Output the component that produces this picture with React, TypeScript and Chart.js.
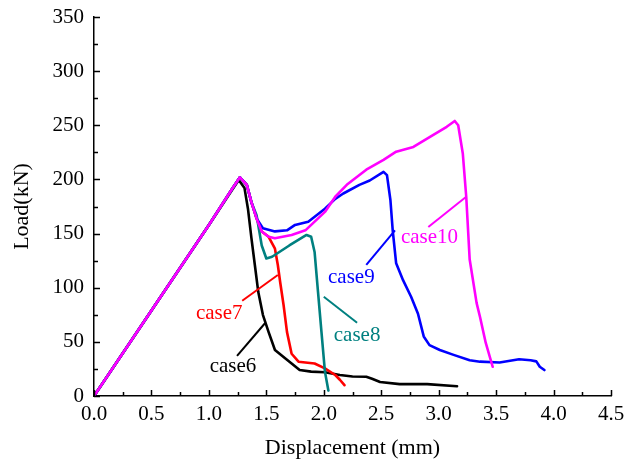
import React, { useEffect, useRef } from 'react';
import { Chart, registerables } from 'chart.js';

Chart.register(...registerables);

// ---- data (displacement mm, load kN) ----
const case6X = [0, 0.5, 1.0, 1.2, 1.26, 1.31, 1.34, 1.37, 1.4, 1.43, 1.47, 1.52, 1.575, 1.65, 1.72, 1.79, 1.89, 2.01, 2.14, 2.25, 2.37, 2.42, 2.49, 2.66, 2.9, 3.16];
const case6Y = [0, 79, 158, 190, 199.5, 192, 173, 146, 121, 96, 75, 59, 42.5, 36, 30, 24, 22.5, 22, 19.4, 18, 17.8, 16, 13, 11, 11, 9];

const case7X = [0, 0.5, 1.0, 1.2, 1.27, 1.33, 1.37, 1.415, 1.46, 1.52, 1.575, 1.6, 1.62, 1.65, 1.68, 1.72, 1.78, 1.92, 2.01, 2.1, 2.14, 2.18];
const case7Y = [0, 79, 158, 191, 202, 195, 179, 164, 152, 147, 136, 121, 105.5, 84, 59, 39, 31.7, 30, 25.5, 19.4, 15, 10];

const case8X = [0, 0.5, 1.0, 1.2, 1.27, 1.33, 1.37, 1.415, 1.46, 1.5, 1.55, 1.7, 1.85, 1.89, 1.92, 1.95, 1.98, 2.01, 2.04];
const case8Y = [0, 79, 158, 191, 202, 195, 179, 167, 139, 127, 128.6, 139, 148.7, 147, 133, 96, 59, 22.5, 5];

const case9X = [0, 0.5, 1.0, 1.2, 1.27, 1.33, 1.37, 1.415, 1.47, 1.575, 1.68, 1.75, 1.865, 2.01, 2.1, 2.17, 2.31, 2.4, 2.52, 2.55, 2.58, 2.6, 2.63, 2.69, 2.76, 2.82, 2.87, 2.92, 3.01, 3.13, 3.27, 3.36, 3.53, 3.7, 3.8, 3.85, 3.88, 3.92];
const case9Y = [0, 79, 158, 191, 202, 195, 179, 164, 155, 152, 153, 158, 161, 173, 182, 187, 195, 199, 207, 204, 181, 153, 122.5, 107, 91.7, 76, 55, 47, 42.5, 38, 33, 31.7, 31, 34, 33, 32, 27, 24];

const case10X = [0, 0.5, 1.0, 1.2, 1.27, 1.33, 1.37, 1.415, 1.46, 1.52, 1.575, 1.72, 1.84, 2.01, 2.1, 2.2, 2.37, 2.52, 2.63, 2.78, 2.95, 3.07, 3.14, 3.17, 3.21, 3.24, 3.27, 3.33, 3.36, 3.41, 3.47];
const case10Y = [0, 79, 158, 191, 202, 195, 179, 164, 152, 147, 145.6, 148.7, 153, 170, 184, 195, 209, 218, 225.6, 230, 241, 248.6, 254, 250, 224, 184, 126, 86, 73, 49, 27];

const seriesNames = ['case6', 'case7', 'case8', 'case9', 'case10'];
const seriesColors = ['#000000', '#ff0000', '#008080', '#0000ff', '#ff00ff'];
const seriesX = [case6X, case7X, case8X, case9X, case10X];
const seriesY = [case6Y, case7Y, case8Y, case9Y, case10Y];

// annotation label positions (data coords)
const labelX = [1.21, 1.09, 2.29, 2.24, 2.92];
const labelY = [26.8, 76.6, 56.3, 109, 146];
const leaderX1 = [1.245, 1.29, 2.0, 2.37, 2.91];
const leaderY1 = [37, 88, 91.7, 121, 156];
const leaderX2 = [1.49, 1.6, 2.29, 2.62, 3.24];
const leaderY2 = [67.4, 111.7, 67.7, 153, 184];

const xMin = 0, xMax = 4.5, xStep = 0.5;
const yMin = 0, yMax = 350, yStep = 50;
const xTitle = 'Displacement (mm)';
const yTitle = 'Load(kN)';

const FONT = 'Liberation Serif';

const decorPlugin = {
  id: 'decor',
  afterDatasetsDraw(chart: any) {
    const ctx = chart.ctx;
    const xs = chart.scales.x;
    const ys = chart.scales.y;
    ctx.save();
    ctx.lineWidth = 2;
    ctx.font = `21px "${FONT}"`;
    ctx.textAlign = 'center';
    ctx.textBaseline = 'middle';
    for (let i = 0; i < seriesNames.length; i++) {
      ctx.strokeStyle = seriesColors[i];
      ctx.fillStyle = seriesColors[i];
      ctx.beginPath();
      ctx.moveTo(xs.getPixelForValue(leaderX1[i]), ys.getPixelForValue(leaderY1[i]));
      ctx.lineTo(xs.getPixelForValue(leaderX2[i]), ys.getPixelForValue(leaderY2[i]));
      ctx.stroke();
      ctx.fillText(seriesNames[i], xs.getPixelForValue(labelX[i]), ys.getPixelForValue(labelY[i]));
    }
    ctx.restore();
  },
  afterDraw(chart: any) {
    const ctx = chart.ctx;
    const xs = chart.scales.x;
    const ys = chart.scales.y;
    const area = chart.chartArea;
    ctx.save();
    ctx.strokeStyle = '#000';
    ctx.lineWidth = 1.5;
    ctx.beginPath();
    for (let v = xMin; v <= xMax + 1e-9; v += xStep / 2) {
      const major = Math.abs(v / xStep - Math.round(v / xStep)) < 1e-6;
      const px = Math.round(xs.getPixelForValue(v)) + 0.5;
      ctx.moveTo(px, area.bottom);
      ctx.lineTo(px, area.bottom - (major ? 6 : 4));
    }
    for (let v = yMin; v <= yMax + 1e-9; v += yStep / 2) {
      const major = Math.abs(v / yStep - Math.round(v / yStep)) < 1e-6;
      const py = Math.round(ys.getPixelForValue(v)) + 0.5;
      ctx.moveTo(area.left, py);
      ctx.lineTo(area.left + (major ? 6 : 4), py);
    }
    ctx.stroke();
    ctx.restore();
  },
};

export default function App() {
  const ref = useRef<HTMLCanvasElement>(null);
  useEffect(() => {
    if (!ref.current) return;
    const datasets = seriesNames
      .map((name, i) => ({
        label: name,
        data: seriesX[i].map((x, j) => ({ x, y: seriesY[i][j] })),
        borderColor: seriesColors[i],
        backgroundColor: seriesColors[i],
        borderWidth: 2.6,
        borderJoinStyle: 'round' as const,
        borderCapStyle: 'round' as const,
        pointRadius: 0,
        fill: false,
        tension: 0,
      }))
      .reverse(); // first dataset is drawn on top -> case10 on top
    const chart = new Chart(ref.current, {
      type: 'line',
      data: { datasets },
      plugins: [decorPlugin],
      options: {
        animation: false,
        responsive: false,
        maintainAspectRatio: false,
        layout: { padding: { top: 17, right: 13, bottom: 0, left: 0 } },
        plugins: { legend: { display: false }, tooltip: { enabled: false } },
        scales: {
          x: {
            type: 'linear',
            min: xMin,
            max: xMax,
            afterFit: (s: any) => {
              s.height = 67;
              s.paddingRight = 0;
              s.paddingLeft = 0;
            },
            border: { display: true, color: '#000', width: 1.5 },
            grid: { display: true, drawOnChartArea: false, drawTicks: false },
            ticks: {
              stepSize: xStep,
              padding: 6,
              color: '#000',
              font: { family: FONT, size: 21 },
              maxRotation: 0,
              autoSkip: false,
              callback: (v: any) => Number(v).toFixed(1),
            },
            title: {
              display: true,
              text: xTitle,
              color: '#000',
              font: { family: FONT, size: 22 },
              padding: { top: 0, bottom: 2 },
            },
          },
          y: {
            type: 'linear',
            min: yMin,
            max: yMax,
            afterFit: (s: any) => {
              s.width = 94;
              s.paddingTop = 0;
              s.paddingBottom = 0;
            },
            border: { display: true, color: '#000', width: 1.5 },
            grid: { display: true, drawOnChartArea: false, drawTicks: false },
            ticks: {
              stepSize: yStep,
              padding: 10,
              color: '#000',
              font: { family: FONT, size: 21 },
            },
            title: {
              display: true,
              text: yTitle,
              color: '#000',
              font: { family: FONT, size: 22 },
              padding: { top: 9, bottom: 0 },
            },
          },
        },
      },
    });
    return () => chart.destroy();
  }, []);
  return (
    <div style={{ position: 'fixed', left: 0, top: 0, width: 624, height: 463, background: '#fff' }}>
      <canvas ref={ref} width={624} height={463} style={{ width: 624, height: 463 }} />
    </div>
  );
}
